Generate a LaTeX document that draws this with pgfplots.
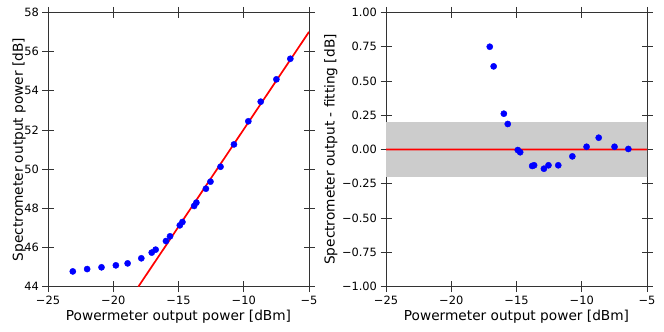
\documentclass[border=0pt]{standalone}
\usepackage{fontspec}
\setmainfont{DejaVu Sans}
\usepackage{pgfplots}
\pgfplotsset{compat=1.18}

\pgfplotstableread{
x y
-23.1 44.78
-22.0 44.90
-20.9 44.99
-19.8 45.09
-18.9 45.19
-17.85 45.45
-17.05 45.74
-16.75 45.89
-15.96 46.33
-15.65 46.57
-14.9 47.13
-14.7 47.30
-13.8 48.12
-13.63 48.29
-12.9 49.00
-12.55 49.36
-11.78 50.12
-10.75 51.26
-9.65 52.44
-8.70 53.44
-7.5 54.58
-6.43 55.63
}\measured

\pgfplotstableread{
x r
-17.05 0.749
-16.75 0.606
-15.97 0.261
-15.67 0.186
-14.9 -0.004
-14.72 -0.020
-13.8 -0.120
-13.65 -0.115
-12.9 -0.140
-12.55 -0.115
-11.8 -0.115
-10.72 -0.050
-9.63 0.020
-8.70 0.086
-7.49 0.020
-6.43 0.004
}\residual

\newcommand\labfont{\fontsize{13.7}{16}\selectfont}

\pgfplotsset{
  common/.style={
    scale only axis, width=261pt, height=274.4pt,
    xmin=-25, xmax=-5,
    xtick={-25,-20,-15,-10,-5},
    xticklabels={−25,−20,−15,−10,−5},
    tick align=center, major tick length=11pt,
    tick style={black!80, line width=0.8pt},
    axis line style={black!80, line width=0.8pt},
    tick label style={font=\fontsize{11.4}{13}\selectfont},
    xlabel={Powermeter output power [dBm]},
    every axis x label/.style={at={(axis description cs:0.5,-0.108)}, anchor=center, font=\labfont},
  },
}

\begin{document}
\begin{tikzpicture}
\useasboundingbox (0pt,0pt) rectangle (664pt,-332pt);

\begin{axis}[common,
    at={(48pt,-12.3pt)}, anchor=north west,
    ymin=44, ymax=58,
    ytick={44,46,...,58},
    yticklabels={44,46,48,50,52,54,56,58},
    ylabel={Spectrometer output power [dB]},
    every axis y label/.style={at={(axis description cs:-0.111,0.5)}, rotate=90, anchor=center, font=\labfont},
  ]
\addplot[color=red, line width=1.7pt] coordinates {(-18.08,44) (-5,57.0)};
\addplot[only marks, mark=*, mark size=3.1pt, color=blue] table[x=x, y=y] {\measured};
\end{axis}

\begin{axis}[common,
    at={(386pt,-12.3pt)}, anchor=north west,
    ymin=-1, ymax=1,
    ytick={-1,-0.75,...,1},
    yticklabels={−1.00,−0.75,−0.50,−0.25,0.00,0.25,0.50,0.75,1.00},
    ylabel={Spectrometer output - fitting [dB]},
    every axis y label/.style={at={(axis description cs:-0.211,0.5)}, rotate=90, anchor=center, font=\labfont},
  ]
\addplot[draw=none, fill=black!20] coordinates {(-25,-0.2) (-5,-0.2) (-5,0.2) (-25,0.2) (-25,-0.2)};
% zero line, drawn as a thin red strip
\addplot[draw=none, fill=red] coordinates {(-25,-0.0062) (-5,-0.0062) (-5,0.0062) (-25,0.0062) (-25,-0.0062)};
\addplot[only marks, mark=*, mark size=3.1pt, color=blue] table[x=x, y=r] {\residual};
\end{axis}
\end{tikzpicture}
\end{document}
